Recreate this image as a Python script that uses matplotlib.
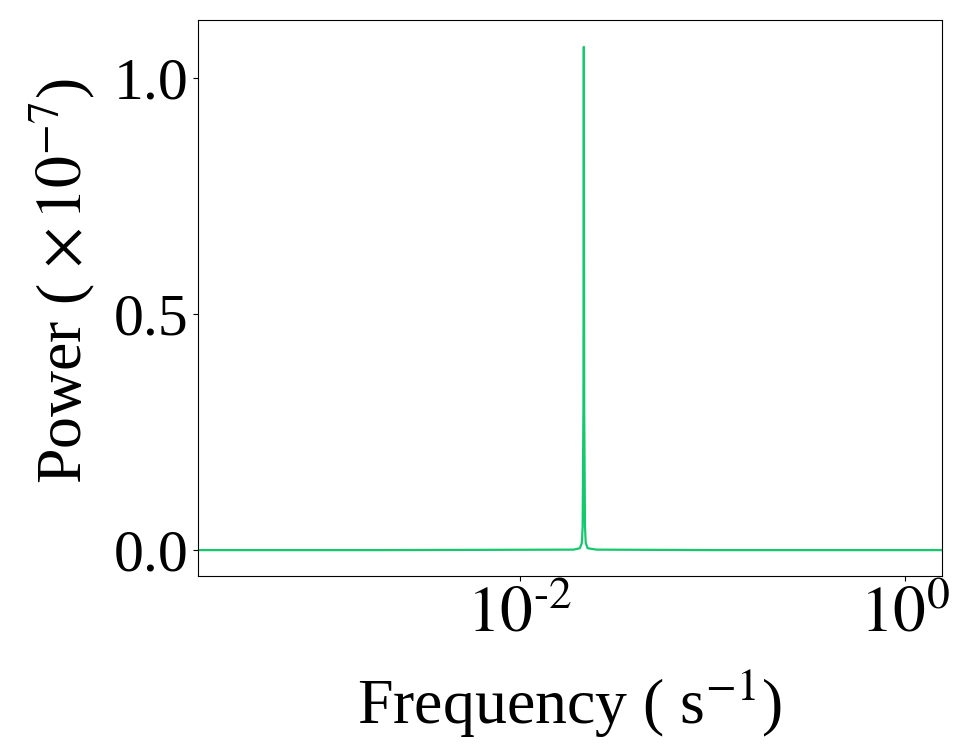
import numpy as np
import matplotlib.pyplot as plt

plt.rcParams['font.family'] = ['Liberation Serif', 'DejaVu Serif']
plt.rcParams['mathtext.fontset'] = 'stix'

# power spectrum (power in units of 1e-7)
freq = [2e-4, 2e-3, 0.019, 0.0205, 0.021, 0.0212, 0.0214, 0.0215,
        0.0216, 0.0218, 0.022, 0.0225, 0.025, 0.1, 0.5, 1.6]
power = [0.0, 0.0, 0.001, 0.004, 0.015, 0.05, 0.3, 1.066,
         0.3, 0.05, 0.015, 0.004, 0.001, 0.0, 0.0, 0.0]

fig = plt.figure(figsize=(9.65, 7.55), dpi=100)
ax = fig.add_axes([0.205, 0.237, 0.771, 0.7365])
ax.plot(freq, power, color='#14c86e', lw=1.6)
ax.set_xscale('log')
ax.set_xlim(2.12e-4, 1.56)
ax.set_ylim(-0.055, 1.123)

ax.set_xticks([1e-2, 1])
ax.set_xticklabels([r'$10^{\text{-2}}$', r'$10^{0}$'])
ax.minorticks_off()
ax.set_yticks([0.0, 0.5, 1.0])
ax.set_yticklabels(['0.0', '0.5', '1.0'])
ax.tick_params(axis='x', labelsize=47)
ax.tick_params(axis='y', labelsize=43)

ax.set_xlabel(r'Frequency ( s$^{-1}$)', fontsize=46, labelpad=17)
ax.set_ylabel(r'Power ( $\times\,10^{-7}$)', fontsize=46)
ax.yaxis.set_label_coords(-0.135, 0.53)

fig.savefig('out.png')
